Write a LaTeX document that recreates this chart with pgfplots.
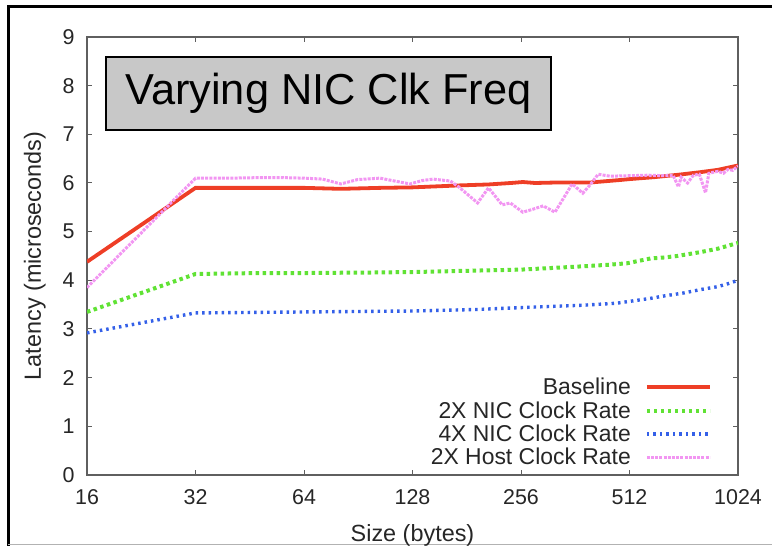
\documentclass[border=0pt]{standalone}
\usepackage{pgfplots}
\pgfplotsset{compat=1.18}
\usepackage{fontspec}
\setmainfont{Liberation Sans}

\definecolor{cBase}{RGB}{238,62,38}
\definecolor{cNicTwo}{RGB}{96,226,52}
\definecolor{cNicFour}{RGB}{52,96,232}
\definecolor{cHost}{RGB}{242,150,242}
\definecolor{cAxis}{RGB}{95,95,95}
\definecolor{cBox}{RGB}{200,200,200}

\begin{document}
\begin{tikzpicture}[x=1bp,y=1bp]
\useasboundingbox (0,0) rectangle (772,546);
% outer frame
\draw[line width=3bp,black] (8,-2) -- (8,539) -- (774,539);
\draw[line width=1bp,black!30] (8,1) -- (772,1);

\begin{axis}[
  at={(87bp,71bp)}, anchor=south west,
  scale only axis, width=651bp, height=438bp,
  xmode=log, log basis x=2,
  xmin=16, xmax=1024, ymin=0, ymax=9,
  xtick={16,32,64,128,256,512,1024},
  xticklabels={16,32,64,128,256,512,1024},
  ytick={0,1,2,3,4,5,6,7,8,9},
  yticklabels={0,1,2,3,4,5,6,7,8,9},
  tick align=inside, major tick length=5bp,
  axis line style={draw=cAxis, line width=1.6bp},
  every tick/.style={draw=cAxis, line width=1bp},
  xticklabel style={font=\fontsize{21.5}{21.5}\selectfont, text=black!85, yshift=-11bp},
  yticklabel style={font=\fontsize{21.5}{21.5}\selectfont, text=black!85, xshift=-9bp},
  xlabel={Size (bytes)}, ylabel={Latency (microseconds)},
  label style={font=\fontsize{23.5}{23.5}\selectfont, text=black!85},
  xlabel style={at={(axis description cs:0.5,-0.138)}, anchor=center},
  ylabel style={at={(axis description cs:-0.080,0.5)}, anchor=center, rotate=0},
  legend plot pos=right,
  legend cell align=right,
  legend style={draw=none, fill=none, at={(0.960,0.226)}, anchor=north east,
    font=\fontsize{23}{23}\selectfont, text=black!85,
    row sep=1.2bp, inner sep=0pt},
  legend image code/.code={\path (0bp,0bp); \draw[#1] (12bp,0bp) -- (75bp,0bp);},
  clip=true,
]

% Baseline
\addplot[cBase, line width=3.8bp] coordinates {
 (16,4.38) (32,5.90) (64,5.90) (81,5.88) (104,5.90) (128,5.91) (172,5.95)
 (208,5.97) (240,6.00) (259,6.02) (280,6.00) (320,6.01) (398,6.01) (480,6.06)
 (512,6.08) (600,6.12) (700,6.17) (800,6.22) (900,6.27) (1024,6.36)
};
\addlegendentry{Baseline}

% 2X NIC clock rate
\addplot[cNicTwo, line width=4bp, dash pattern=on 3.5bp off 3.5bp] coordinates {
 (16,3.35) (32,4.13) (48,4.15) (64,4.15) (96,4.16) (128,4.17) (192,4.20)
 (256,4.22) (343,4.27) (384,4.29) (448,4.32) (504,4.35) (586,4.45) (640,4.47)
 (694,4.50) (806,4.58) (900,4.65) (1024,4.77)
};
\addlegendentry{2X NIC Clock Rate}

% 4X NIC clock rate
\addplot[cNicFour, line width=3.4bp, dash pattern=on 2.5bp off 4bp] coordinates {
 (16,2.92) (32,3.33) (64,3.35) (128,3.37) (192,3.40) (276,3.45) (384,3.49)
 (472,3.53) (586,3.63) (640,3.68) (723,3.74) (806,3.81) (899,3.87) (960,3.93)
 (1024,4.00)
};
\addlegendentry{4X NIC Clock Rate}

% 2X host clock rate
\addplot[cHost, line width=3bp, dash pattern=on 3bp off 1.2bp] coordinates {
 (16,3.85) (32,6.10) (40,6.10) (48,6.11) (56,6.11) (64,6.10) (72,6.08)
 (81,5.98) (90,6.07) (104,6.10) (118,6.02) (126,5.98) (136,6.05) (146,6.08)
 (163,6.04) (172,5.92) (194,5.59) (208,5.90) (227,5.55) (239,5.59) (259,5.40)
 (276,5.46) (295,5.53) (318,5.40) (355,5.98) (380,5.79) (398,5.96) (419,6.18)
 (452,6.14) (512,6.15) (576,6.16) (640,6.15) (676,6.16) (700,5.92) (712,6.12)
 (742,6.00) (770,6.16) (800,6.18) (832,5.80) (850,6.20) (900,6.24) (933,6.20)
 (960,6.28) (990,6.26) (1024,6.35)
};
\addlegendentry{2X Host Clock Rate}
\end{axis}

% title box
\node[draw=black, line width=1.6bp, fill=cBox, minimum width=445bp,
      minimum height=73bp, inner sep=0pt,
      font=\fontsize{43.5}{43.5}\selectfont] at (328.5,452.5) {Varying NIC Clk Freq};
\end{tikzpicture}
\end{document}
